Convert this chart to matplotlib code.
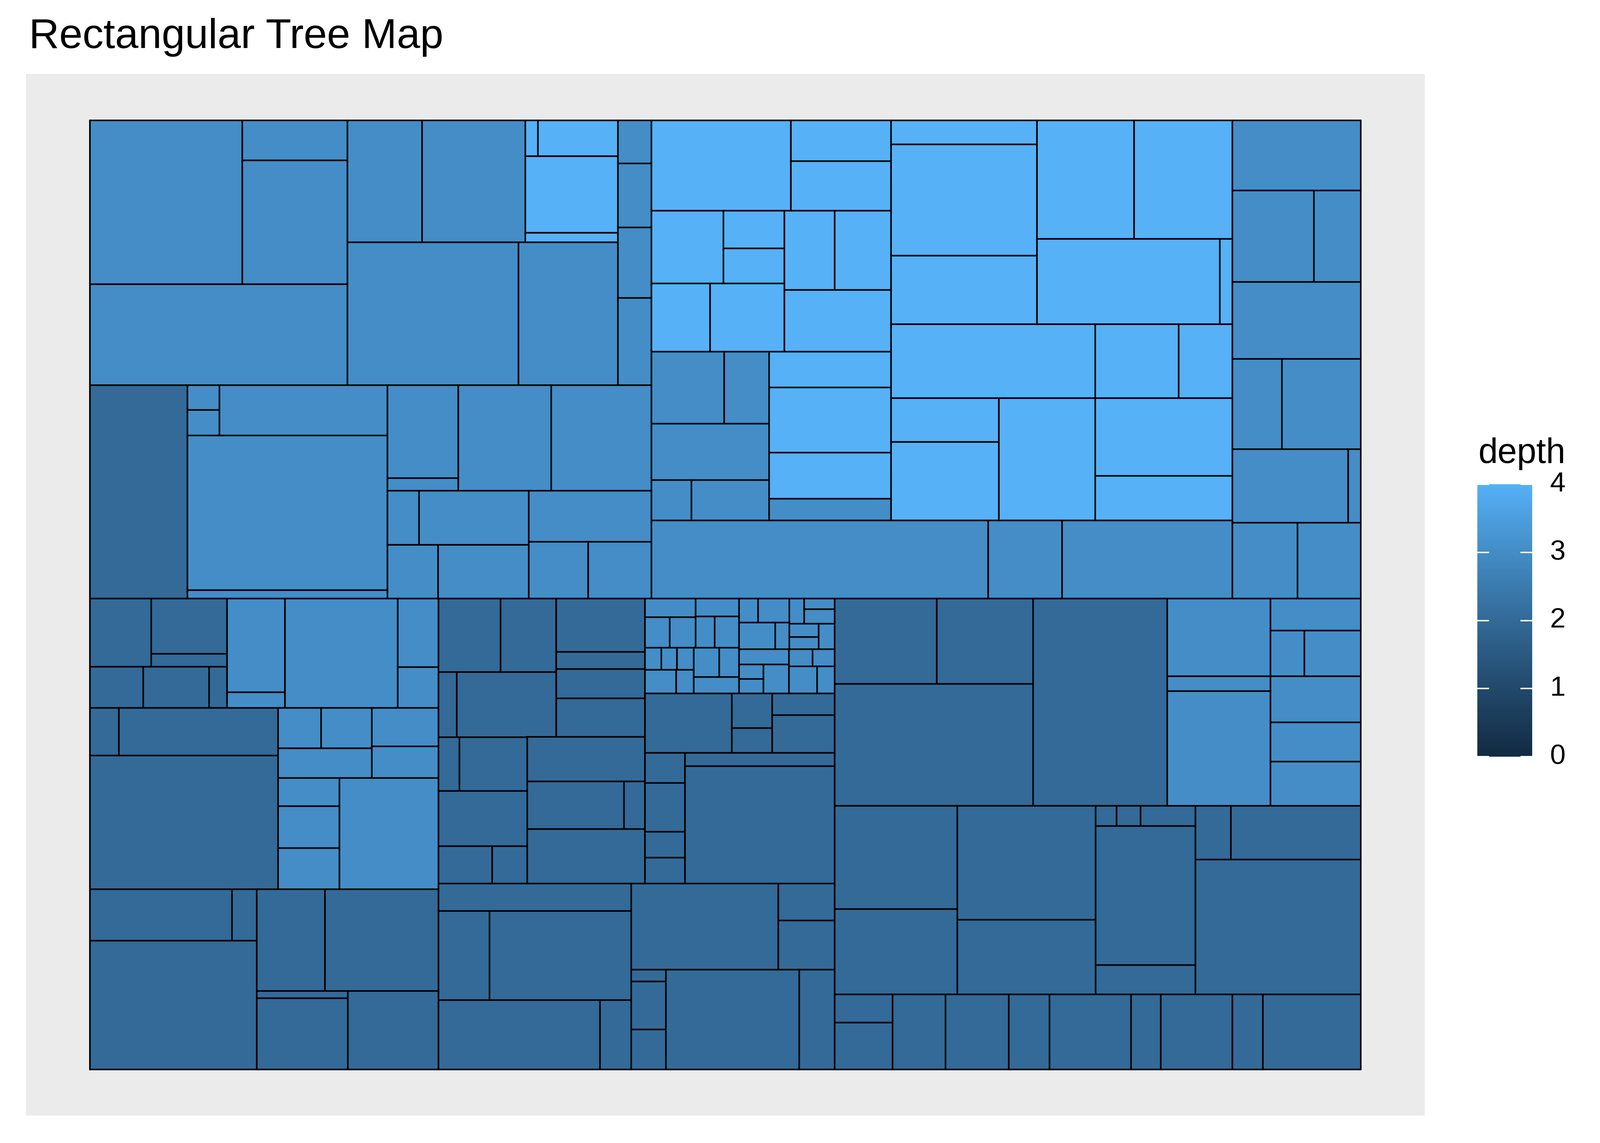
import numpy as np
import matplotlib
matplotlib.use("Agg")
import matplotlib.pyplot as plt
from matplotlib.patches import Rectangle
from matplotlib.colors import ListedColormap

plt.rcParams['font.family'] = ['Liberation Sans', 'DejaVu Sans']

# ── Treemap cells: (xmin, xmax, ymin, ymax, depth), layout units, y downwards ──
upper_left = [
    (88, 237.6, 118, 278.3, 3), (237.6, 340.4, 118, 157.3, 3),
    (237.6, 340.4, 157.3, 278.3, 3), (88, 340.4, 278.3, 377.3, 3),
    (340.4, 413.6, 118, 237.4, 3), (413.6, 514.7, 118, 237.4, 3),
    (514.7, 527.2, 118, 153.2, 4), (527.2, 605.4, 118, 153.2, 4),
    (514.7, 605.4, 153.2, 228, 4), (514.7, 605.4, 228, 237.4, 4),
    (340.4, 508.3, 237.4, 377.3, 3), (508.3, 605.4, 237.4, 377.3, 3),
    (605.4, 638.3, 118, 160.1, 3), (605.4, 638.3, 160.1, 222.7, 3),
    (605.4, 638.3, 222.7, 291.8, 3), (605.4, 638.3, 291.8, 377.3, 3),
    (88, 183.6, 377.3, 586.4, 2), (183.6, 215, 377.3, 401.5, 3),
    (183.6, 215, 401.5, 426.6, 3), (215, 379.7, 377.3, 426.6, 3),
    (183.6, 379.7, 426.6, 578.1, 3), (183.6, 379.7, 578.1, 586.4, 3),
    (379.7, 449, 377.3, 468.4, 3), (379.7, 449, 468.4, 481, 3),
    (449, 540.4, 377.3, 481, 3), (540.4, 638.3, 377.3, 481, 3),
    (379.7, 410.8, 481, 533.8, 3), (410.8, 518.3, 481, 533.8, 3),
    (379.7, 429.3, 533.8, 586.4, 3), (429.3, 518.3, 533.8, 586.4, 3),
    (518.3, 638.3, 481, 531, 3), (518.3, 576.5, 531, 586.4, 3),
    (576.5, 638.3, 531, 586.4, 3),
]

upper_right = [
    (638.3, 775.2, 118, 206.6, 4), (775.2, 873.2, 118, 157.9, 4),
    (775.2, 873.2, 157.9, 206.6, 4), (638.3, 708.9, 206.6, 277.7, 4),
    (708.9, 768.7, 206.6, 243.4, 4), (708.9, 768.7, 243.4, 277.7, 4),
    (768.7, 818, 206.6, 284, 4), (818, 873.2, 206.6, 284, 4),
    (638.3, 695.9, 277.7, 344.6, 4), (695.9, 768.7, 277.7, 344.6, 4),
    (768.7, 873.2, 284, 344.6, 4), (638.3, 709.8, 344.6, 415.3, 3),
    (709.8, 753.9, 344.6, 415.3, 3), (638.3, 753.9, 415.3, 470.3, 3),
    (638.3, 677.7, 470.3, 510, 3), (677.7, 753.9, 470.3, 510, 3),
    (753.9, 873.2, 344.6, 379.5, 4), (753.9, 873.2, 379.5, 443.6, 4),
    (753.9, 873.2, 443.6, 488.8, 4), (753.9, 873.2, 488.8, 510, 3),
    (873.2, 1016.2, 118, 141.6, 4), (873.2, 1016.2, 141.6, 250.6, 4),
    (873.2, 1016.2, 250.6, 317.6, 4), (1016.2, 1111.4, 118, 234, 4),
    (1111.4, 1207.9, 118, 234, 4), (1016.2, 1195.4, 234, 317.6, 4),
    (1195.4, 1207.9, 234, 317.6, 4), (873.2, 1073.3, 317.6, 390.2, 4),
    (1073.3, 1155, 317.6, 390.2, 4), (1155, 1207.9, 317.6, 390.2, 4),
    (873.2, 979, 390.2, 432.9, 4), (873.2, 979, 432.9, 510, 4),
    (979, 1073.3, 390.2, 510, 4), (1073.3, 1207.9, 390.2, 466.2, 4),
    (1073.3, 1207.9, 466.2, 510, 4),
    (638.3, 968.4, 510, 586.4, 3), (968.4, 1040.8, 510, 586.4, 3),
    (1040.8, 1207.9, 510, 586.4, 3),
    (1207.9, 1333.7, 118, 186.5, 3), (1207.9, 1287.8, 186.5, 276.1, 3),
    (1287.8, 1333.7, 186.5, 276.1, 3), (1207.9, 1333.7, 276.1, 351.5, 3),
    (1207.9, 1256.2, 351.5, 440.1, 3), (1256.2, 1333.7, 351.5, 440.1, 3),
    (1207.9, 1321.2, 440.1, 512.1, 3), (1321.2, 1333.7, 440.1, 512.1, 3),
    (1207.9, 1271.5, 512.1, 586.4, 3), (1271.5, 1333.7, 512.1, 586.4, 3),
]

lower_left = [
    (88, 148.2, 586.4, 653.3, 2), (148.2, 222.5, 586.4, 640.6, 2),
    (148.2, 222.5, 640.6, 653.3, 2), (88, 140.4, 653.3, 693.5, 2),
    (140.4, 205, 653.3, 693.5, 2), (205, 222.5, 653.3, 693.5, 2),
    (222.5, 279.3, 586.4, 678.3, 3), (222.5, 279.3, 678.3, 693.5, 3),
    (279.3, 389.7, 586.4, 693.5, 3), (389.7, 429.7, 586.4, 653.6, 3),
    (389.7, 429.7, 653.6, 693.5, 3),
    (88, 116.5, 693.5, 740.2, 2), (116.5, 272.5, 693.5, 740.2, 2),
    (88, 272.5, 740.2, 871.2, 2),
    (272.5, 314.7, 693.5, 733.1, 3), (314.7, 364.3, 693.5, 733.1, 3),
    (364.3, 429.7, 693.5, 731.3, 3), (272.5, 364.3, 733.1, 762.2, 3),
    (364.3, 429.7, 731.3, 762.2, 3), (272.5, 332.5, 762.2, 789.8, 3),
    (272.5, 332.5, 789.8, 831.2, 3), (272.5, 332.5, 831.2, 871.2, 3),
    (332.5, 429.7, 762.2, 871.2, 3),
    (88, 227.2, 871.2, 921.9, 2), (227.2, 251.5, 871.2, 921.9, 2),
    (88, 251.5, 921.9, 1047.9, 2), (251.5, 318.6, 871.2, 971.2, 2),
    (318.6, 429.7, 871.2, 971.2, 2), (251.5, 340.7, 971.2, 978, 2),
    (251.5, 340.7, 978, 1047.9, 2), (340.7, 429.7, 971.2, 1047.9, 2),
]

lower_mid = [
    (429.7, 490.4, 586.4, 658.5, 2), (490.4, 545, 586.4, 658.5, 2),
    (545, 632, 586.4, 638.7, 2), (545, 632, 638.7, 655.4, 2),
    (545, 632, 655.4, 684.2, 2), (545, 632, 684.2, 722, 2),
    (429.7, 447.5, 658.5, 722.3, 2), (447.5, 545, 658.5, 722.3, 2),
    (429.7, 450.4, 722.3, 774.9, 2), (450.4, 516.8, 722.3, 774.9, 2),
    (516.8, 632, 722, 765.6, 2), (516.8, 611.5, 765.6, 812.4, 2),
    (611.5, 632, 765.6, 812.4, 2), (429.7, 516.8, 774.9, 829.1, 2),
    (429.7, 482.5, 829.1, 865.6, 2), (482.5, 516.8, 829.1, 865.6, 2),
    (516.8, 632, 812.4, 865.6, 2),
    (429.7, 618.6, 865.6, 892.5, 2), (429.7, 479.7, 892.5, 979.8, 2),
    (479.7, 618.6, 892.5, 979.8, 2), (429.7, 587.9, 979.8, 1047.9, 2),
    (587.9, 618.6, 979.8, 1047.9, 2),
    (632, 717.2, 679.3, 737.8, 2), (717.2, 756.7, 679.3, 713.6, 2),
    (717.2, 756.7, 713.6, 737.8, 2), (756.7, 818, 679.3, 700.9, 2),
    (756.7, 818, 700.9, 737.8, 2), (632, 671.2, 737.8, 767.2, 2),
    (671.2, 818, 737.8, 750.8, 2), (671.2, 818, 750.8, 865.6, 2),
    (632, 671.2, 767.2, 814.8, 2), (632, 671.2, 814.8, 840.2, 2),
    (632, 671.2, 840.2, 865.6, 2),
    (618.6, 762.7, 865.6, 950.1, 2), (762.7, 818, 865.6, 902.1, 2),
    (762.7, 818, 902.1, 950.1, 2), (618.6, 652.7, 950.1, 961.6, 2),
    (618.6, 652.7, 961.6, 1008.9, 2), (618.6, 652.7, 1008.9, 1047.9, 2),
    (652.7, 783.1, 950.1, 1047.9, 2), (783.1, 818, 950.1, 1047.9, 2),
]

small_cluster = [
    (632, 681.7, 586.4, 604.8, 3), (632, 656.3, 604.8, 634.7, 3),
    (656.3, 681.7, 604.8, 634.7, 3), (681.7, 724.3, 586.4, 604.1, 3),
    (681.7, 700.4, 604.1, 634.7, 3), (700.4, 724.3, 604.1, 634.7, 3),
    (632, 648, 634.7, 656.3, 3), (648, 663.5, 634.7, 656.3, 3),
    (663.5, 679.8, 634.7, 656.3, 3), (632, 662.7, 656.3, 679.3, 3),
    (662.7, 679.8, 656.3, 679.3, 3), (679.8, 704.9, 634.7, 663.4, 3),
    (704.9, 724.3, 634.7, 663.4, 3), (679.8, 724.3, 663.4, 679.3, 3),
    (724.3, 742.9, 586.4, 610, 3), (742.9, 773.4, 586.4, 610, 3),
    (724.3, 759.8, 610, 636.2, 3), (759.8, 773.4, 610, 636.2, 3),
    (724.3, 773.1, 636.2, 651.1, 3), (724.3, 748.2, 651.1, 665.3, 3),
    (724.3, 748.2, 665.3, 679.3, 3), (748.2, 773.1, 651.1, 679.3, 3),
    (773.4, 788.2, 586.4, 611.1, 3), (788.2, 818, 586.4, 597, 3),
    (788.2, 818, 597, 611.1, 3), (773.4, 802.3, 611.1, 624.2, 3),
    (773.4, 802.3, 624.2, 636.2, 3), (802.3, 818, 611.1, 636.2, 3),
    (773.1, 796.4, 636.2, 653, 3), (796.4, 818, 636.2, 653, 3),
    (773.1, 800.8, 653, 679.3, 3), (800.8, 818, 653, 679.3, 3),
]

lower_right = [
    (818, 918.2, 586.4, 670, 2), (918.2, 1012.5, 586.4, 670, 2),
    (818, 1012.5, 670, 789.5, 2), (1012.5, 1143.9, 586.4, 789.5, 2),
    (1143.9, 1245.1, 586.4, 662.6, 3), (1143.9, 1245.1, 662.6, 677.1, 3),
    (1143.9, 1245.1, 677.1, 789.5, 3), (1245.1, 1333.7, 586.4, 617.7, 3),
    (1245.1, 1278.5, 617.7, 662.6, 3), (1278.5, 1333.7, 617.7, 662.6, 3),
    (1245.1, 1333.7, 662.6, 708, 3), (1245.1, 1333.7, 708, 746.4, 3),
    (1245.1, 1333.7, 746.4, 789.5, 3),
    (818, 938.2, 789.5, 890.7, 2), (818, 938.2, 890.7, 974.3, 2),
    (938.2, 1073.7, 789.5, 901.2, 2), (938.2, 1073.7, 901.2, 974.3, 2),
    (1073.7, 1094.2, 789.5, 809.3, 2), (1094.2, 1117.9, 789.5, 809.3, 2),
    (1117.9, 1171.7, 789.5, 809.3, 2), (1073.7, 1171.7, 809.3, 945.5, 2),
    (1073.7, 1171.7, 945.5, 974.3, 2), (1171.7, 1206.1, 789.5, 842.1, 2),
    (1206.1, 1333.7, 789.5, 842.1, 2), (1171.7, 1333.7, 842.1, 974.3, 2),
    (818, 874.6, 974.3, 1002.1, 2), (818, 874.6, 1002.1, 1047.9, 2),
    (874.6, 926.6, 974.3, 1047.9, 2), (926.6, 988.8, 974.3, 1047.9, 2),
    (988.8, 1028.7, 974.3, 1047.9, 2), (1028.7, 1108.6, 974.3, 1047.9, 2),
    (1108.6, 1137.4, 974.3, 1047.9, 2), (1137.4, 1207.9, 974.3, 1047.9, 2),
    (1207.9, 1237.6, 974.3, 1047.9, 2), (1237.6, 1333.7, 974.3, 1047.9, 2),
]

depth_breaks = [0, 1, 2, 3, 4]
low_col, high_col = "#132B43", "#56B1F7"


# ── ggplot-style gradient (interpolated in CIELAB) ──────────────
WHITE = np.array([0.95047, 1.0, 1.08883])
M = np.array([[0.4124, 0.3576, 0.1805],
              [0.2126, 0.7152, 0.0722],
              [0.0193, 0.1192, 0.9505]])


def hex_to_lab(h):
    rgb = np.array([int(h[i:i + 2], 16) for i in (1, 3, 5)]) / 255
    lin = np.where(rgb <= 0.04045, rgb / 12.92, ((rgb + 0.055) / 1.055) ** 2.4)
    t = (M @ lin) / WHITE
    d = 6 / 29
    f = np.where(t > d ** 3, np.cbrt(t), t / (3 * d * d) + 4 / 29)
    return np.array([116 * f[1] - 16, 500 * (f[0] - f[1]), 200 * (f[1] - f[2])])


def lab_to_rgb(lab):
    L, a, b = lab
    fy = (L + 16) / 116
    f = np.array([fy + a / 500, fy, fy - b / 200])
    d = 6 / 29
    t = np.where(f > d, f ** 3, 3 * d * d * (f - 4 / 29))
    lin = np.linalg.solve(M, t * WHITE)
    lin = np.clip(lin, 0, 1)
    rgb = np.where(lin <= 0.0031308, 12.92 * lin, 1.055 * lin ** (1 / 2.4) - 0.055)
    return np.clip(rgb, 0, 1)


lab_lo, lab_hi = hex_to_lab(low_col), hex_to_lab(high_col)
cmap = ListedColormap([lab_to_rgb(lab_lo + (lab_hi - lab_lo) * s)
                       for s in np.linspace(0, 1, 256)])

# ── Figure ─────────────────────────────────────────────────────
fig = plt.figure(figsize=(14, 10), dpi=300)
ax = fig.add_axes([68 / 4200, 1 - 2928 / 3000, (3740 - 68) / 4200, (2928 - 194) / 3000])
ax.set_facecolor("#EBEBEB")
ax.set_xlim(25.4, 1396.3)
ax.set_ylim(1093.1, 72.4)
ax.set_xticks([]); ax.set_yticks([])
for s in ax.spines.values():
    s.set_visible(False)

for group in (upper_left, upper_right, lower_left, lower_mid, small_cluster, lower_right):
    for x0, x1, y0, y1, d in group:
        ax.add_patch(Rectangle((x0, y0), x1 - x0, y1 - y0,
                               facecolor=cmap(d / 4), edgecolor="black", lw=1.0))

fig.text(76 / 4200, 1 - 126 / 3000, "Rectangular Tree Map",
         fontsize=26.4, va="baseline", ha="left")

# legend (colourbar)
cax = fig.add_axes([3878 / 4200, 1 - 1986 / 3000, 144 / 4200, 715 / 3000])
grad = np.linspace(0, 4, 300).reshape(-1, 1)
cax.imshow(grad, cmap=cmap, vmin=0, vmax=4, aspect="auto",
           extent=[0, 1, 0, 4], origin="lower")
for v in depth_breaks:
    cax.plot([0, 0.2], [v, v], color="white", lw=0.9)
    cax.plot([0.8, 1], [v, v], color="white", lw=0.9)
cax.set_xlim(0, 1); cax.set_ylim(0, 4)
cax.axis("off")
for v in depth_breaks:
    fig.text(4068 / 4200, (1 - 1986 / 3000) + v / 4 * 715 / 3000, str(v),
             fontsize=17.6, ha="left", va="center")
fig.text(3880 / 4200, 1 - 1215 / 3000, "depth", fontsize=22, ha="left", va="baseline")

fig.savefig("out.png", dpi=300, facecolor="white")
